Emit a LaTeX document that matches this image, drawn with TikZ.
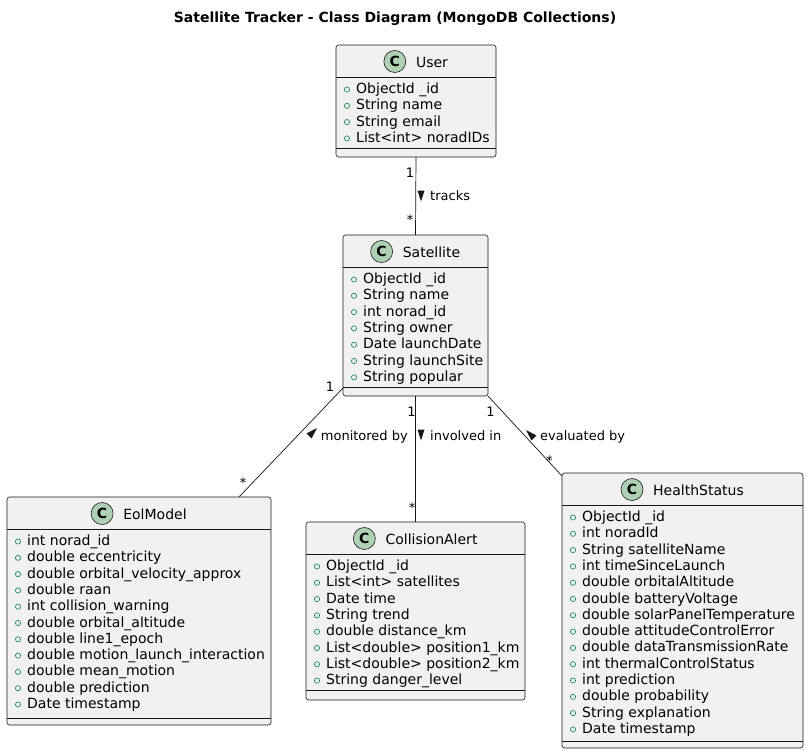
\documentclass[tikz,border=0pt]{standalone}
\usepackage{fontspec}
\setmainfont{DejaVu Sans}
\definecolor{boxfill}{HTML}{F1F1F1}
\definecolor{boxline}{HTML}{181818}
\definecolor{cfill}{HTML}{ADD1B2}
\definecolor{attrgreen}{HTML}{038048}
\tikzset{
  classbox/.style={draw=boxline, fill=boxfill, line width=0.6pt, rounded corners=2.5pt, anchor=north west, inner sep=0pt, outer sep=0pt},
  sepline/.style={draw=boxline, line width=0.6pt},
  headcirc/.style={draw=boxline, fill=cfill, line width=0.6pt},
  attrtext/.style={anchor=base west, inner sep=0pt, font=\fontsize{14}{16}\selectfont},
  cname/.style={anchor=base, inner sep=0pt, font=\fontsize{14}{16}\selectfont},
  cletter/.style={inner sep=0pt, font=\bfseries\fontsize{14}{16}\selectfont},
  marker/.style={draw=attrgreen, line width=0.6pt},
  mult/.style={anchor=base, inner sep=0pt, font=\fontsize{13}{15}\selectfont},
  assoc/.style={draw=boxline, line width=0.7pt},
  lbl/.style={anchor=base west, inner sep=0pt, font=\fontsize{13}{15}\selectfont},
  tri/.style={fill=boxline},
  titletext/.style={anchor=base, inner sep=0pt, font=\bfseries\fontsize{14}{16}\selectfont}
}
% #1 id, #2 title, #3 left, #4 top, #5 right, #6 bottom, #7 head sep, #8 bottom sep, #9 attributes
\newcommand\umlclass[9]{%
  \pgfmathsetmacro\cw{#5-#3}%
  \pgfmathsetmacro\ch{#6-#4}%
  \node[classbox, minimum width=\cw pt, minimum height=\ch pt] (#1) at (#3,#4) {};
  \draw[sepline] (#3,#7) -- (#5,#7);
  \draw[sepline] (#3,#8) -- (#5,#8);
  \pgfmathsetmacro\cx{(#3+#5)/2+16}%
  \pgfmathsetmacro\ny{#4+22}%
  \node[cname] (#1-name) at (\cx,\ny) {#2};
  \draw[headcirc] (#1-name.base west) ++(-21,-5.5) circle[radius=11pt] node[cletter] {C};
  \foreach \a [count=\i from 0] in {#9} {
    \pgfmathsetmacro\yy{#7+16.5+\i*16.3}
    \node[attrtext] at (#3+20,\yy) {\a};
    \draw[marker] (#3+11,\yy-4) circle[radius=2.6pt];
  }
}
\begin{document}
\begin{tikzpicture}[x=1pt,y=-1pt]
  \fill[white] (0,0) rectangle (809,755);
  \useasboundingbox (0,0) rectangle (809,755);

  \node[titletext] (title) at (395,22) {Satellite Tracker - Class Diagram (MongoDB Collections)};

  \umlclass{user}{User}{336}{45}{496}{157}{77}{148}{ObjectId \_id,String name,String email,List<int> noradIDs}
  \umlclass{sat}{Satellite}{343}{235}{488}{396}{267}{387}{ObjectId \_id,String name,int norad\_id,String owner,Date launchDate,String launchSite,String popular}
  \umlclass{eol}{EolModel}{7}{497}{271}{725}{529}{718}{int norad\_id,double eccentricity,double orbital\_velocity\_approx,double raan,int collision\_warning,double orbital\_altitude,double line1\_epoch,double motion\_launch\_interaction,double mean\_motion,double prediction,Date timestamp}
  \umlclass{coll}{CollisionAlert}{306}{522}{525}{700}{554}{690}{ObjectId \_id,List<int> satellites,Date time,String trend,double distance\_km,List<double> position1\_km,List<double> position2\_km,String danger\_level}
  \umlclass{hs}{HealthStatus}{562}{473}{803}{748}{505}{741}{ObjectId \_id,int noradId,String satelliteName,int timeSinceLaunch,double orbitalAltitude,double batteryVoltage,double solarPanelTemperature,double attitudeControlError,double dataTransmissionRate,int thermalControlStatus,int prediction,double probability,String explanation,Date timestamp}

  % connectors
  \draw[assoc] (user.south) -- (sat.north);
  \draw[assoc] ([yshift=8pt]sat.south west) -- ([xshift=-32pt]eol.north east);
  \draw[assoc] (sat.south) -- (coll.north);
  \draw[assoc] (sat.south east) -- ([yshift=-3pt]hs.north west);

  % multiplicities
  \node[mult] (m1a) at (410,177.7) {1};
  \node[mult] (m1b) at (410,224.5) {*};
  \node[mult] (m2a) at (330,391.5) {1};
  \node[mult] (m2b) at (243,487.5) {*};
  \node[mult] (m3a) at (411.5,416.4) {1};
  \node[mult] (m3b) at (412,512) {*};
  \node[mult] (m4a) at (490.5,416.4) {1};
  \node[mult] (m4b) at (549.3,465.4) {*};

  % association labels
  \fill[tri] (417.5,190.5) -- (424.5,190.5) -- (421,201.5) -- cycle;
  \node[lbl] (l1) at (430,200) {tracks};
  \fill[tri] (316.9,428.1) -- (311.6,438.4) -- (306.6,433.4) -- cycle;
  \node[lbl] (l2) at (320.7,440) {monitored by};
  \fill[tri] (417.5,429.5) -- (424.5,429.5) -- (421,440.5) -- cycle;
  \node[lbl] (l3) at (430,440) {involved in};
  \fill[tri] (526.1,430.1) -- (536.4,435.4) -- (531.4,440.4) -- cycle;
  \node[lbl] (l4) at (540,440) {evaluated by};
\end{tikzpicture}
\end{document}
